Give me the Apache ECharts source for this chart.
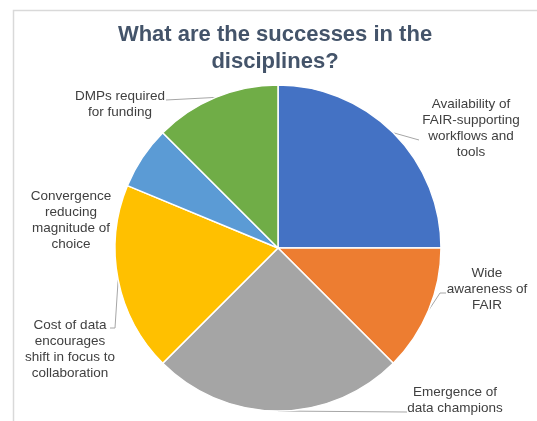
<!DOCTYPE html>
<html><head><meta charset="utf-8">
<script src="https://cdn.jsdelivr.net/npm/echarts@6/dist/echarts.min.js"></script>
<style>html,body{margin:0;padding:0;background:#fff;}#c{width:537px;height:421px;}</style>
</head><body><div id="c"></div>
<script>
const categories = [
  'Availability of\nFAIR-supporting\nworkflows and\ntools',
  'Wide\nawareness of\nFAIR',
  'Emergence of\ndata champions',
  'Cost of data\nencourages\nshift in focus to\ncollaboration',
  'Convergence\nreducing\nmagnitude of\nchoice',
  'DMPs required\nfor funding'
];
const values = [4, 2, 4, 3, 1, 2];
const colors = ['#4472C4', '#ED7D31', '#A5A5A5', '#FFC000', '#5B9BD5', '#70AD47'];
// label anchor positions and leader-line bends (layout only)
const labelPos = [[471, 128], [487, 289], [455, 400], [70, 349], [71, 220], [120, 104]];
const leaderBends = [
  [[419, 140]],
  [[440, 293], [446, 293]],
  [[407, 412]],
  [[115, 328], [110, 328]],
  null,
  [[166, 100]]
];

const chart = echarts.init(document.getElementById('c'), null, {renderer: 'canvas'});
chart.setOption({
  animation: false,
  graphic: [{
    type: 'rect', shape: {x: 13.5, y: 10.5, width: 600, height: 500},
    style: {fill: 'none', stroke: '#d9d9d9', lineWidth: 1.5}, z: -1
  }],
  title: {
    text: 'What are the successes in the\ndisciplines?',
    left: 270, top: 16, textAlign: 'center',
    textStyle: {fontFamily: 'Liberation Sans, Arial, sans-serif', fontSize: 22, fontWeight: 'bold', color: '#44546A', lineHeight: 27}
  },
  series: [{
    type: 'pie',
    center: [278, 248],
    radius: [0, 163],
    startAngle: 90,
    clockwise: true,
    itemStyle: {borderColor: '#fff', borderWidth: 1.5},
    label: {
      show: true, position: 'outside', overflow: 'none',
      fontFamily: 'Liberation Sans, Arial, sans-serif', fontSize: 13.5, color: '#404040', lineHeight: 16, align: 'center'
    },
    labelLine: {show: true, lineStyle: {color: '#a6a6a6', width: 1}, length: 10, length2: 10},
    labelLayout: function (p) {
      const i = p.dataIndex;
      const pos = labelPos[i];
      const out = {x: pos[0], y: pos[1], align: 'center', verticalAlign: 'middle'};
      if (leaderBends[i] && p.labelLinePoints) {
        out.labelLinePoints = [p.labelLinePoints[0]].concat(leaderBends[i]);
      }
      return out;
    },
    data: categories.map((c, i) => ({
      name: c, value: values[i], itemStyle: {color: colors[i]},
      labelLine: {show: leaderBends[i] !== null}
    }))
  }]
});
</script></body></html>
